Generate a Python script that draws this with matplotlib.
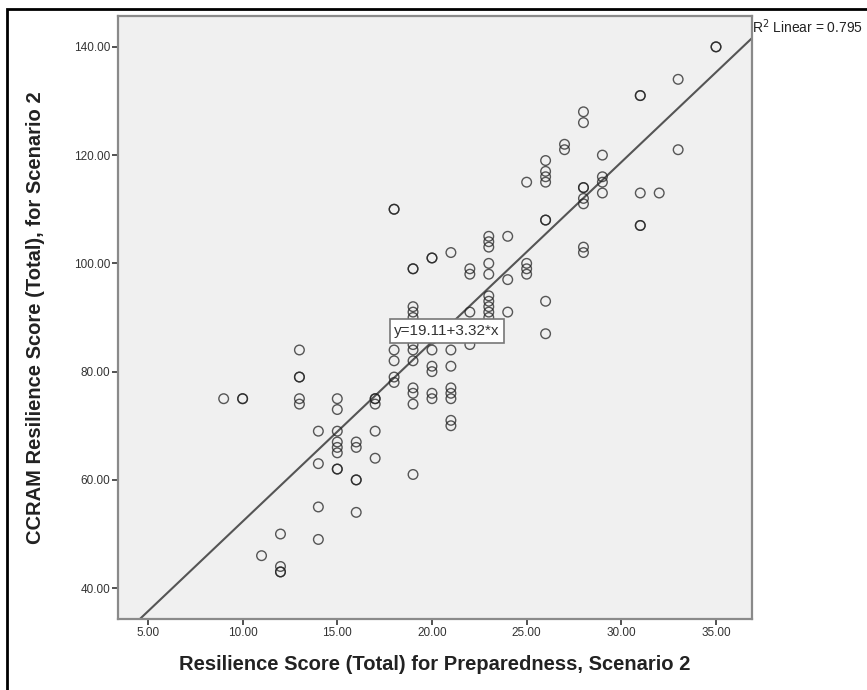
import matplotlib
matplotlib.use('Agg')
import matplotlib.pyplot as plt
from matplotlib.patches import Rectangle
import numpy as np

plt.rcParams['font.family'] = ['Liberation Sans', 'DejaVu Sans']

# preparedness score (x) and CCRAM score (y), one entry per respondent
prep = [9, 10, 10, 11,
        12, 12, 12, 12,
        13, 13, 13, 13, 13,
        14, 14, 14, 14,
        15, 15, 15, 15, 15, 15, 15, 15,
        16, 16, 16, 16, 16,
        17, 17, 17, 17, 17,
        18, 18, 18, 18, 18, 18,
        19, 19, 19, 19, 19, 19, 19, 19, 19, 19, 19, 19,
        20, 20, 20, 20, 20, 20, 20, 20, 20,
        21, 21, 21, 21, 21, 21, 21, 21,
        22, 22, 22, 22, 22,
        23, 23, 23, 23, 23, 23, 23, 23, 23, 23,
        24, 24, 24,
        25, 25, 25, 25,
        26, 26, 26, 26, 26, 26, 26, 26,
        27, 27,
        28, 28, 28, 28, 28, 28, 28, 28,
        29, 29, 29, 29,
        31, 31, 31, 31, 31,
        32,
        33, 33,
        35, 35]
ccram = [75, 75, 75, 46,
         50, 44, 43, 43,
         84, 79, 79, 75, 74,
         69, 63, 55, 49,
         75, 73, 69, 67, 66, 65, 62, 62,
         67, 66, 60, 60, 54,
         75, 75, 74, 69, 64,
         110, 110, 84, 82, 79, 78,
         99, 99, 92, 91, 90, 85, 84, 82, 77, 76, 74, 61,
         101, 101, 88, 86, 84, 81, 80, 76, 75,
         102, 84, 81, 77, 76, 75, 71, 70,
         99, 98, 91, 88, 85,
         105, 104, 103, 100, 98, 94, 93, 92, 91, 90,
         105, 97, 91,
         115, 100, 99, 98,
         119, 117, 116, 115, 108, 108, 93, 87,
         122, 121,
         128, 126, 114, 114, 112, 111, 103, 102,
         120, 116, 115, 113,
         131, 131, 113, 107, 107,
         113,
         134, 121,
         140, 140]

intercept = 19.11
slope = 3.32
r_squared = 0.795

x_ticks = [5, 10, 15, 20, 25, 30, 35]
y_ticks = [40, 60, 80, 100, 120, 140]

fig = plt.figure(figsize=(8.67, 6.9), dpi=100)
ax = fig.add_axes([118 / 867, 71 / 690, 634 / 867, 603 / 690])
ax.set_facecolor('#f0f0f0')

ax.scatter(prep, ccram, s=48, facecolors='none', edgecolors='#222222',
           linewidths=1.0, alpha=0.75, zorder=3)

xlim = (3.42, 36.9)
ylim = (34.3, 145.7)
xs = np.array(xlim)
ax.plot(xs, intercept + slope * xs, color='#555555', lw=1.5, zorder=2)
ax.set_xlim(*xlim)
ax.set_ylim(*ylim)

ax.set_xticks(x_ticks)
ax.set_xticklabels([f'{t:.2f}' for t in x_ticks])
ax.set_yticks(y_ticks)
ax.set_yticklabels([f'{t:.2f}' for t in y_ticks])
ax.tick_params(direction='out', length=4.5, width=1.2, color='#333333',
               labelsize=8.5, labelcolor='#333333', pad=1)
for s in ax.spines.values():
    s.set_color('#8a8a8a')
    s.set_linewidth(1.6)

ax.set_xlabel('Resilience Score (Total) for Preparedness, Scenario 2',
              fontsize=14.5, fontweight='bold', color='#222222', labelpad=12)
ax.set_ylabel('CCRAM Resilience Score (Total), for Scenario 2',
              fontsize=14.5, fontweight='bold', color='#222222', labelpad=21)

ax.text(20.79, 87.5, f'y={intercept:.2f}+{slope:.2f}*x', fontsize=11,
        ha='center', va='center', color='#333333', zorder=5,
        bbox=dict(boxstyle='square,pad=0.3', fc='white', ec='#777777', lw=1.2))

ax.text(1.0, 0.982, f'R$^2$ Linear = {r_squared:.3f}', transform=ax.transAxes,
        fontsize=10, ha='left', va='center', color='#222222', clip_on=False)

# outer frame of the exported figure (cut off at right and bottom)
fig.patches.append(Rectangle((7 / 867, -0.05), 1.1, (690 - 9) / 690 + 0.05,
                             transform=fig.transFigure, fill=False,
                             ec='black', lw=2))

fig.savefig('out.png', dpi=100)
